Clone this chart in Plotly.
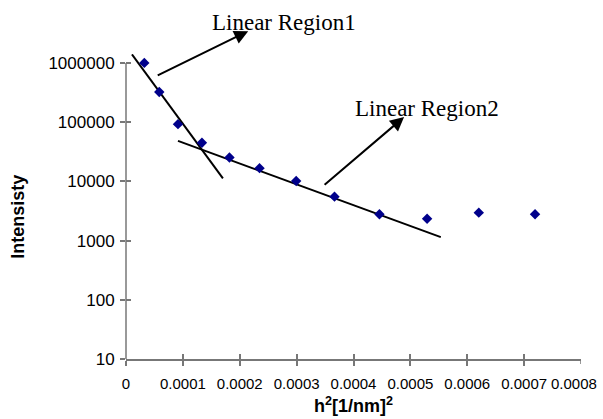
import plotly.graph_objects as go

# ---- data ----
h2 = [3.22e-5, 5.85e-5, 9.14e-5, 1.335e-4, 1.819e-4, 2.348e-4,
      2.992e-4, 3.666e-4, 4.456e-4, 5.294e-4, 6.203e-4, 7.192e-4]
intensity = [1000000, 322000, 92300, 44700, 25200, 16700,
             10100, 5510, 2780, 2340, 2960, 2780]

fit1_x = [1.05e-5, 1.704e-4]
fit1_y = [1390000, 11200]
fit2_x = [9.14e-5, 5.535e-4]
fit2_y = [48200, 1140]

x_tickvals = [0, 0.0001, 0.0002, 0.0003, 0.0004, 0.0005, 0.0006, 0.0007, 0.0008]
x_ticktext = ["0", "0.0001", "0.0002", "0.0003", "0.0004", "0.0005", "0.0006", "0.0007", "0.0008"]
y_tickvals = [10, 100, 1000, 10000, 100000, 1000000]
y_ticktext = ["10", "100", "1000", "10000", "100000", "1000000"]

label1 = "Linear Region1"
label2 = "Linear Region2"
x_title = "h<sup>2</sup>[1/nm]<sup>2</sup>"
y_title = "Intensisty"

AX = "#777777"
Y_LO, Y_HI = 1, 6.15   # log10 range
TOP_FRAC = (6 - Y_LO) / (Y_HI - Y_LO)

fig = go.Figure()
fig.add_trace(go.Scatter(x=fit1_x, y=fit1_y, mode="lines",
                         line=dict(color="black", width=2), showlegend=False))
fig.add_trace(go.Scatter(x=fit2_x, y=fit2_y, mode="lines",
                         line=dict(color="black", width=2), showlegend=False))
fig.add_trace(go.Scatter(x=h2, y=intensity, mode="markers",
                         marker=dict(symbol="diamond", size=8, color="#00008B"),
                         showlegend=False, cliponaxis=False))
# empty trace so the overlay axes (inner half of the cross ticks) are drawn
fig.add_trace(go.Scatter(x=[], y=[], xaxis="x2", yaxis="y2", showlegend=False,
                         hoverinfo="skip"))

tickfont = dict(family="Liberation Sans, Arial", size=15, color="black")

fig.update_layout(
    width=603, height=419,
    margin=dict(l=126, r=22, t=54, b=60),
    paper_bgcolor="white", plot_bgcolor="white",
    xaxis=dict(range=[0, 0.0008], tickvals=x_tickvals[:-1], ticktext=x_ticktext[:-1],
               showgrid=False, zeroline=False, showline=True, linecolor=AX, linewidth=1.5,
               ticks="outside", ticklen=5, tickcolor=AX, tickwidth=1.5, automargin=False,
               tickfont=tickfont, ticklabelstandoff=5, ticklabeloverflow="allow",
               title=dict(text=x_title, standoff=9,
                          font=dict(family="Liberation Sans, Arial", size=18, color="black",
                                    weight="bold"))),
    yaxis=dict(type="log", range=[Y_LO, Y_HI], tickvals=y_tickvals, ticktext=y_ticktext,
               showgrid=False, zeroline=False, showline=False, automargin=False,
               ticks="outside", ticklen=5, tickcolor=AX, tickwidth=1.5,
               tickfont=dict(family="Liberation Sans, Arial", size=17, color="black"),
               ticklabelstandoff=2),
    xaxis2=dict(overlaying="x", anchor="y2", range=[0, 0.0008], tickvals=x_tickvals,
                showticklabels=False, showgrid=False, zeroline=False, showline=False,
                automargin=False,
                ticks="inside", ticklen=5, tickcolor=AX, tickwidth=1.5, side="bottom"),
    yaxis2=dict(overlaying="y", anchor="x2", type="log", range=[Y_LO, Y_HI], tickvals=y_tickvals,
                showticklabels=False, showgrid=False, zeroline=False, showline=False,
                automargin=False,
                ticks="inside", ticklen=5, tickcolor=AX, tickwidth=1.5, side="left"),
)

# last x tick: outer half of the cross tick, and its label nudged left like the reference
fig.add_annotation(xref="x", yref="paper", x=x_tickvals[-1], y=0, yshift=-24, xshift=-7,
                   text=x_ticktext[-1], showarrow=False, xanchor="center", yanchor="middle",
                   font=tickfont)
fig.add_shape(type="line", xref="x", yref="paper", x0=x_tickvals[-1], x1=x_tickvals[-1],
              y0=-5, y1=0, ysizemode="pixel", yanchor=0,
              line=dict(color=AX, width=1.5))

# y axis line ending at the 1000000 tick
fig.add_shape(type="line", xref="paper", yref="paper", x0=0, x1=0, y0=0, y1=TOP_FRAC,
              line=dict(color=AX, width=1.5))

serif = dict(family="Liberation Serif, Times New Roman", size=23, color="black")
fig.add_annotation(xref="paper", yref="paper", x=0.2686, y=1.075, axref="pixel", ayref="pixel",
                   ax=-92, ay=45, showarrow=True, arrowhead=2, arrowsize=1.4, arrowwidth=2,
                   arrowcolor="black", text="")
fig.add_annotation(xref="paper", yref="paper", x=0.3477, y=1.1035, text=label1, showarrow=False,
                   xanchor="center", yanchor="middle", font=serif)
fig.add_annotation(xref="paper", yref="paper", x=0.6112, y=0.7934, axref="pixel", ayref="pixel",
                   ax=-81, ay=69, showarrow=True, arrowhead=2, arrowsize=1.4, arrowwidth=2,
                   arrowcolor="black", text="")
fig.add_annotation(xref="paper", yref="paper", x=0.6618, y=0.8219, text=label2, showarrow=False,
                   xanchor="center", yanchor="middle", font=serif)
fig.add_annotation(xref="paper", yref="paper", x=-0.2365, y=0.468, text=y_title, showarrow=False,
                   textangle=-90, xanchor="center", yanchor="middle",
                   font=dict(family="Liberation Sans, Arial", size=18, color="black", weight="bold"))

fig.write_html("out.html", config={"displayModeBar": False},
               post_script="document.body.style.margin='0';")
